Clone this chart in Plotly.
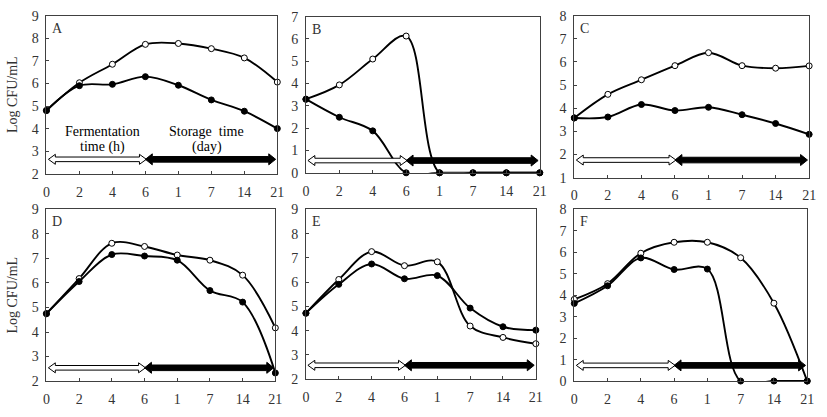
import plotly.graph_objects as go

# ---- data ----
x_labels = ["0", "2", "4", "6", "1", "7", "14", "21"]
panel_names = ["A", "B", "C", "D", "E", "F"]

A_open = [4.8, 6.03, 6.85, 7.73, 7.77, 7.54, 7.13, 6.06]
A_fill = [4.8, 5.9, 5.96, 6.3, 5.92, 5.27, 4.77, 4.0]
B_open = [3.3, 3.94, 5.1, 6.13, 0, 0, 0, 0]
B_fill = [3.3, 2.49, 1.88, 0, 0, 0, 0, 0]
C_open = [3.58, 4.6, 5.23, 5.84, 6.4, 5.84, 5.73, 5.83]
C_fill = [3.58, 3.62, 4.16, 3.9, 4.04, 3.72, 3.34, 2.87]
D_open = [4.75, 6.18, 7.62, 7.49, 7.14, 6.93, 6.32, 4.17]
D_fill = [4.75, 6.06, 7.16, 7.1, 6.93, 5.69, 5.22, 2.33]
E_open = [4.72, 6.11, 7.26, 6.68, 6.84, 4.19, 3.72, 3.46]
E_fill = [4.72, 5.91, 6.75, 6.14, 6.27, 4.93, 4.16, 4.02]
F_open = [3.81, 4.54, 5.96, 6.47, 6.47, 5.75, 3.63, 0]
F_fill = [3.62, 4.44, 5.74, 5.2, 5.22, 0, 0, 0]

open_series = [A_open, B_open, C_open, D_open, E_open, F_open]
fill_series = [A_fill, B_fill, C_fill, D_fill, E_fill, F_fill]
y_ranges = [(2, 9), (0, 7), (1, 8), (2, 9), (2, 9), (0, 8)]
arrow_levels = [2.64, 0.55, 1.76, 2.54, 2.57, 0.73]

W, H = 827, 417
# panel boxes in pixels (left, right, top, bottom)
boxes = [(43, 277, 9, 173), (306, 543, 10, 172), (578, 816, 9, 177),
         (43, 275, 210, 388), (306, 539, 210, 386), (578, 814, 210, 388)]

FONT = "Liberation Serif"
TXT = "#333333"
AX = "#404040"

fig = go.Figure()
xs = list(range(len(x_labels)))

layout = dict(width=W, height=H, margin=dict(l=0, r=0, t=0, b=0),
              paper_bgcolor="white", plot_bgcolor="white", showlegend=False,
              font=dict(family=FONT, size=14, color=TXT))
shapes = []
annotations = []

for i in range(6):
    l, r, t, b = boxes[i]
    xa = "xaxis" if i == 0 else f"xaxis{i+1}"
    ya = "yaxis" if i == 0 else f"yaxis{i+1}"
    xr = "x" if i == 0 else f"x{i+1}"
    yr = "y" if i == 0 else f"y{i+1}"
    layout[xa] = dict(domain=[l / W, r / W], anchor=yr, range=[0, 7],
                      tickmode="array", tickvals=xs, ticktext=x_labels,
                      ticks="inside", ticklen=3, tickcolor=AX,
                      showline=True, linecolor=AX, linewidth=1, mirror=True,
                      showgrid=False, zeroline=False, ticklabelstandoff=5,
                      tickfont=dict(family=FONT, size=14, color=TXT))
    lo, hi = y_ranges[i]
    layout[ya] = dict(domain=[1 - b / H, 1 - t / H], anchor=xr, range=[lo, hi],
                      dtick=1, ticks="inside", ticklen=3, tickcolor=AX,
                      showline=True, linecolor=AX, linewidth=1, mirror=True,
                      showgrid=False, zeroline=False, ticklabelstandoff=4,
                      tickfont=dict(family=FONT, size=14, color=TXT))
    if i in (0, 3):
        layout[ya]["title"] = dict(text="Log CFU/mL", font=dict(family=FONT, size=14, color=TXT), standoff=10)

    fig.add_trace(go.Scatter(x=xs, y=open_series[i], xaxis=xr, yaxis=yr, mode="lines+markers",
                             line=dict(color="black", width=1.9, shape="spline", smoothing=1),
                             marker=dict(size=6, color="white", line=dict(color="black", width=1)),
                             cliponaxis=False))
    fig.add_trace(go.Scatter(x=xs, y=fill_series[i], xaxis=xr, yaxis=yr, mode="lines+markers",
                             line=dict(color="black", width=1.9, shape="spline", smoothing=1),
                             marker=dict(size=6, color="black", line=dict(color="black", width=1)),
                             cliponaxis=False))

    # panel letter
    annotations.append(dict(text=panel_names[i], xref=f"{xr} domain", yref=f"{yr} domain",
                            x=0, y=1, xanchor="left", yanchor="top", xshift=4, yshift=-3,
                            showarrow=False, font=dict(family=FONT, size=14, color=TXT)))

    # arrows: hollow (fermentation) and filled (storage)
    lvl = arrow_levels[i]
    Lh = 7 / ((r - l) / 7)  # head length in data units
    def arrow_path(x0, x1, hh, sh):
        return (f"M {x0},0 L {x0+Lh},{hh} L {x0+Lh},{sh} L {x1-Lh},{sh} L {x1-Lh},{hh} "
                f"L {x1},0 L {x1-Lh},{-hh} L {x1-Lh},{-sh} L {x0+Lh},{-sh} L {x0+Lh},{-hh} Z")
    shapes.append(dict(type="path", xref=xr, yref=yr, ysizemode="pixel", yanchor=lvl,
                       path=arrow_path(0.06, 3.03, 5, 2.3),
                       fillcolor="white", line=dict(color="black", width=1)))
    shapes.append(dict(type="path", xref=xr, yref=yr, ysizemode="pixel", yanchor=lvl,
                       path=arrow_path(3.0, 6.95, 5.5, 2.8),
                       fillcolor="black", line=dict(color="black", width=1)))

# text in panel A
annotations.append(dict(text="Fermentation", xref="x", yref="y", x=1.7, y=3.87, showarrow=False,
                        font=dict(family=FONT, size=14, color="black")))
annotations.append(dict(text="time (h)", xref="x", yref="y", x=1.7, y=3.17, showarrow=False,
                        font=dict(family=FONT, size=14, color="black")))
annotations.append(dict(text="Storage  time", xref="x", yref="y", x=4.86, y=3.87, showarrow=False,
                        font=dict(family=FONT, size=14, color="black")))
annotations.append(dict(text="(day)", xref="x", yref="y", x=4.86, y=3.17, showarrow=False,
                        font=dict(family=FONT, size=14, color="black")))

layout["shapes"] = shapes
layout["annotations"] = annotations
fig.update_layout(**layout)
fig.write_html("out.html", config={"displayModeBar": False},
               post_script="document.body.style.margin='0';document.body.style.padding='0';")
